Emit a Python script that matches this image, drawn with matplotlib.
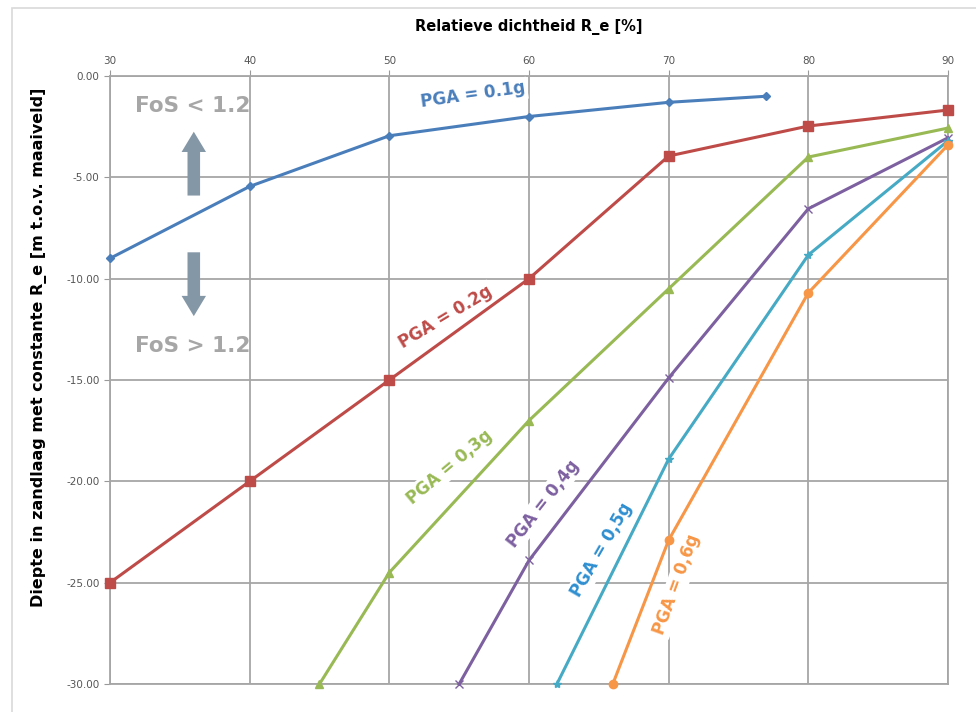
import matplotlib.pyplot as plt
from matplotlib.patches import FancyArrow, Rectangle

# data
x_01 = [30, 40, 50, 60, 70, 77]
y_01 = [-9.0, -5.45, -2.95, -2.0, -1.3, -1.0]
x_02 = [30, 40, 50, 60, 70, 80, 90]
y_02 = [-25.0, -20.0, -15.0, -10.0, -3.95, -2.47, -1.68]
x_03 = [45, 50, 60, 70, 80, 90]
y_03 = [-30.0, -24.5, -17.0, -10.5, -4.0, -2.57]
x_04 = [55, 60, 70, 80, 90]
y_04 = [-30.0, -23.9, -14.9, -6.55, -3.05]
x_05 = [62, 70, 80, 90]
y_05 = [-30.0, -18.9, -8.83, -3.2]
x_06 = [66, 70, 80, 90]
y_06 = [-30.0, -22.9, -10.7, -3.4]

x_ticks = [30, 40, 50, 60, 70, 80, 90]
y_ticks = [0, -5, -10, -15, -20, -25, -30]

fig = plt.figure(figsize=(9.76, 7.12), dpi=100)
# outer chart frame
fig.patches.append(Rectangle((0.012, -0.01), 0.99, 0.999, transform=fig.transFigure,
                             fill=False, edgecolor='#D9D9D9', lw=1.2))
ax = fig.add_axes([0.1127, 0.0393, 0.8586, 0.854])

series = [
    (x_01, y_01, '#4A7EBB', 'D', 4),
    (x_02, y_02, '#BE4B48', 's', 7),
    (x_03, y_03, '#98B954', '^', 6),
    (x_04, y_04, '#7D60A0', 'x', 6),
    (x_05, y_05, '#46AAC5', '*', 6),
    (x_06, y_06, '#F79646', 'o', 6),
]
for xs, ys, c, m, ms in series:
    ax.plot(xs, ys, color=c, lw=2.2, marker=m, markersize=ms, clip_on=False, zorder=3)

ax.set_xlim(30, 90)
ax.set_ylim(-30, 0)
ax.set_xticks(x_ticks)
ax.set_yticks(y_ticks)
ax.set_yticklabels(['%.2f' % v if v == 0 else '-%.2f' % abs(v) for v in y_ticks])
ax.xaxis.tick_top()
ax.xaxis.set_label_position('top')
ax.tick_params(axis='both', labelsize=7.5, labelcolor='#555555', color='#999999', length=4)
ax.grid(True, color='#A6A6A6', lw=1.3)
ax.set_axisbelow(True)
for s in ax.spines.values():
    s.set_color('#A6A6A6')
    s.set_linewidth(1.3)

ax.set_xlabel('Relatieve dichtheid R_e [%]', fontsize=10.5, fontweight='bold', labelpad=18)
ax.set_ylabel('Diepte in zandlaag met constante R_e [m t.o.v. maaiveld]', fontsize=11.5,
              fontweight='bold')
ax.yaxis.set_label_coords(-0.075, 0.553)

# curve labels
box = dict(facecolor='white', edgecolor='none', pad=1.5)
labels = [
    (56.0, -0.95, 'PGA = 0.1g', '#4A7EBB', 8),
    (54.0, -11.9, 'PGA = 0.2g', '#BE4B48', 31),
    (54.3, -19.3, 'PGA = 0,3g', '#98B954', 40),
    (61.0, -21.1, 'PGA = 0,4g', '#7D60A0', 52),
    (65.2, -23.4, 'PGA = 0,5g', '#2F8FD0', 60),
    (70.6, -25.1, 'PGA = 0,6g', '#F79646', 70),
]
for lx, ly, t, c, r in labels:
    ax.text(lx, ly, t, color=c, fontsize=12, fontweight='bold', rotation=r,
            ha='center', va='center', bbox=box, zorder=4)

# FoS annotations
ax.text(35.9, -1.5, 'FoS < 1.2', color='#A6A6A6', fontsize=15.5, fontweight='bold',
        ha='center', va='center')
ax.text(35.9, -13.3, 'FoS > 1.2', color='#A6A6A6', fontsize=15.5, fontweight='bold',
        ha='center', va='center')
ax.add_patch(FancyArrow(36.0, -5.9, 0, 3.15, width=0.9, head_width=1.75, head_length=1.0,
                        length_includes_head=True, color='#8497A6', ec='none', zorder=2))
ax.add_patch(FancyArrow(36.0, -8.7, 0, -3.15, width=0.9, head_width=1.75, head_length=1.0,
                        length_includes_head=True, color='#8497A6', ec='none', zorder=2))

fig.savefig('out.png', dpi=100)
